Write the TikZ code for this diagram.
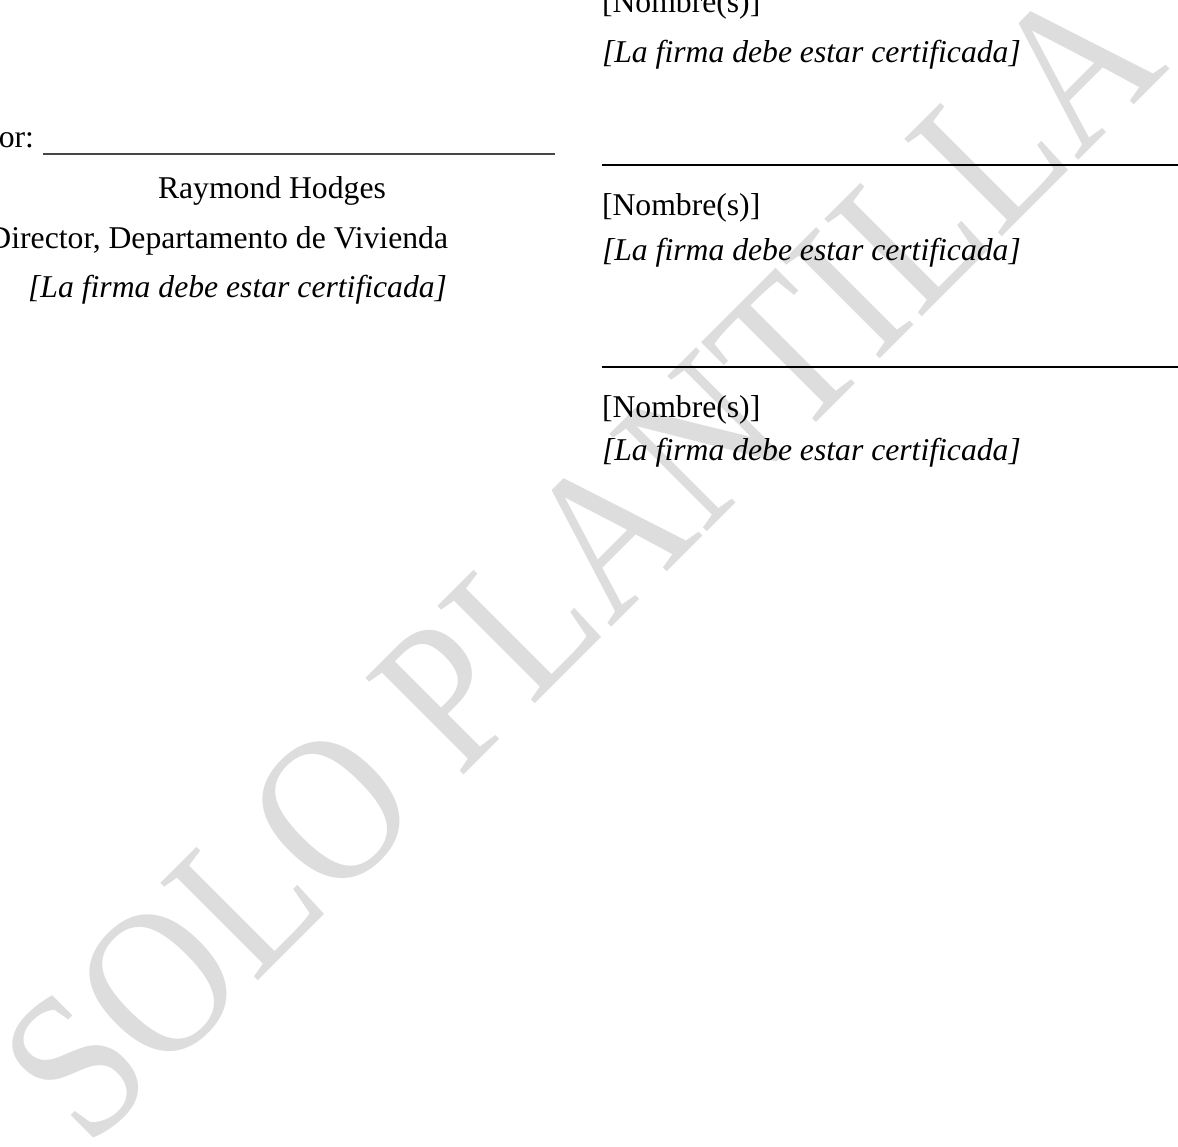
\documentclass[tikz,border=0pt]{standalone}
\usepackage{fontspec}
\setmainfont{Liberation Serif}
\usetikzlibrary{positioning,calc}
\definecolor{watermarkgray}{RGB}{221,221,221}
\definecolor{blankgray}{RGB}{70,70,70}

\begin{document}
\begin{tikzpicture}[
    x=0.3788pt, y=-0.3788pt,
    every node/.style={inner sep=0pt, outer sep=0pt, font=\fontsize{12}{14}\selectfont},
    plaintext/.style={anchor=base west},
    certtext/.style={anchor=base west, font=\fontsize{12}{14}\selectfont\itshape},
    sigline/.style={line width=0.8pt},
    blankline/.style={line width=0.45pt, draw=blankgray},
    watermark/.style={anchor=base west, text=watermarkgray, font=\fontsize{69.3}{70}\selectfont}
]
\useasboundingbox (0,0) rectangle (1178,1147);
\clip (0,0) rectangle (1178,1147);

\begin{scope}[shift={(89,1150)}, rotate=45, yscale=1.15]
    \node[watermark, transform shape] (mark) at (0,0) {SOLO PLANTILLA};
\end{scope}

\node[plaintext, anchor=base east] (por) at (34,147) {or:};
\coordinate (blankstart) at (43,154);
\coordinate (blankend) at (555,154);
\draw[blankline] (blankstart) -- (blankend);
\node[plaintext] (hodges) at (158,198) {Raymond Hodges};
\node[plaintext, anchor=base east] (director) at (448,248) {Director, Departamento de Vivienda};
\node[certtext, anchor=base east] (certleft) at (447,297) {[La firma debe estar certificada]};

\node[plaintext] (nombreA) at (602,13) {[Nombre(s)]};
\node[certtext] (certA) at (602,62) {[La firma debe estar certificada]};

\coordinate (lineBstart) at (602,165);
\coordinate (lineBend) at (1180,165);
\draw[sigline] (lineBstart) -- (lineBend);
\node[plaintext] (nombreB) at (602,215) {[Nombre(s)]};
\node[certtext] (certB) at (602,260) {[La firma debe estar certificada]};

\coordinate (lineCstart) at (602,367);
\coordinate (lineCend) at (1180,367);
\draw[sigline] (lineCstart) -- (lineCend);
\node[plaintext] (nombreC) at (602,417) {[Nombre(s)]};
\node[certtext] (certC) at (602,460) {[La firma debe estar certificada]};
\end{tikzpicture}
\end{document}
